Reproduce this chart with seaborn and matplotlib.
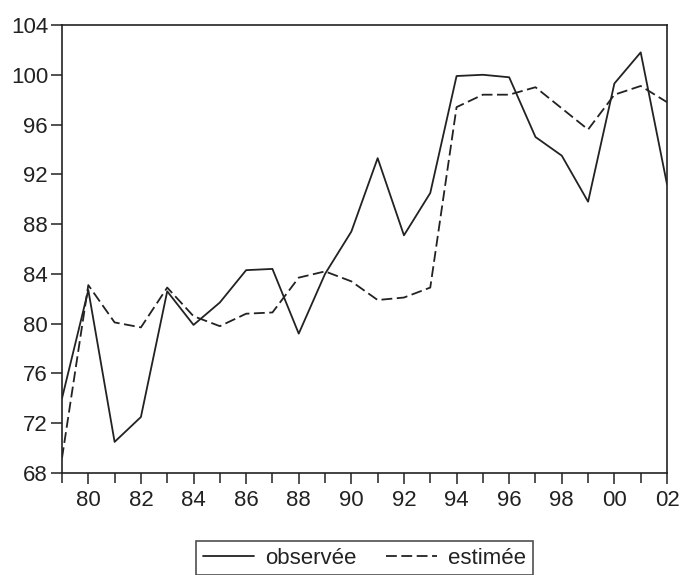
import matplotlib
matplotlib.use("Agg")
import matplotlib.pyplot as plt
import seaborn as sns
import pandas as pd
import numpy as np

years = list(range(1979, 2003))
observee = [74.0, 82.7, 70.5, 72.5, 82.6, 79.9, 81.7, 84.3, 84.4, 79.2, 84.0, 87.4,
            93.3, 87.1, 90.5, 99.9, 100.0, 99.8, 95.0, 93.5, 89.8, 99.3, 101.8, 91.2]
estimee = [69.2, 83.1, 80.1, 79.7, 82.9, 80.6, 79.8, 80.8, 80.9, 83.7, 84.2, 83.4,
           81.9, 82.1, 82.9, 97.4, 98.4, 98.4, 99.0, 97.3, 95.6, 98.4, 99.1, 97.8]
series_names = ["observée", "estimée"]
xtick_years = list(range(1980, 2003, 2))
xtick_labels = [f"{y % 100:02d}" for y in xtick_years]
ytick_values = list(range(68, 105, 4))

sns.set_theme(style="white")
plt.rcParams["font.family"] = ["Liberation Sans", "DejaVu Sans"]

df = pd.DataFrame({"year": years + years,
                   "value": observee + estimee,
                   "serie": [series_names[0]] * len(years) + [series_names[1]] * len(years)})

fig = plt.figure(figsize=(6.83, 5.75), dpi=100)
ax = fig.add_axes([62 / 683, 1 - 473 / 575, (667 - 62) / 683, (473 - 25) / 575])

sns.lineplot(data=df[df.serie == series_names[0]], x="year", y="value", ax=ax,
             color="#222222", linewidth=1.3, label=series_names[0])
sns.lineplot(data=df[df.serie == series_names[1]], x="year", y="value", ax=ax,
             color="#222222", linewidth=1.3, linestyle=(0, (6, 2.5)), label=series_names[1])

ax.set_xlim(1979, 2002)
ax.set_ylim(68, 104)
ax.set_xticks(years, minor=True)
ax.set_xticks(xtick_years)
ax.set_xticklabels(xtick_labels)
ax.set_yticks(ytick_values)
ax.set_xlabel("")
ax.set_ylabel("")
for s in ax.spines.values():
    s.set_color("#222222")
    s.set_linewidth(1.2)
ax.tick_params(axis="both", which="both", direction="out", color="#222222",
               labelsize=16, labelcolor="#222222", bottom=True, left=True)
ax.tick_params(axis="x", which="major", length=8, width=1.1, pad=4)
ax.tick_params(axis="x", which="minor", length=7, width=1.1)
ax.tick_params(axis="y", which="major", length=8, width=1.1, pad=2)

leg = ax.legend(loc="upper center", bbox_to_anchor=(0.5, -0.127), ncol=2, frameon=True,
                fancybox=False, edgecolor="#222222", fontsize=16, handlelength=2.3,
                handletextpad=0.5, columnspacing=1.3, borderpad=0.3)
leg.get_frame().set_linewidth(1.2)
for t in leg.get_texts():
    t.set_color("#222222")

fig.savefig("out.png", dpi=100)
